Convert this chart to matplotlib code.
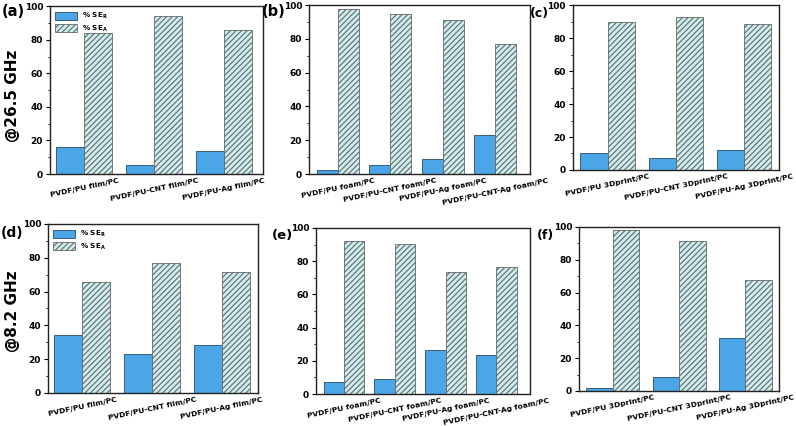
import numpy as np
import matplotlib.pyplot as plt
from matplotlib.ticker import MultipleLocator

film_labels = ['PVDF/PU film/PC', 'PVDF/PU-CNT film/PC', 'PVDF/PU-Ag film/PC']
foam_labels = ['PVDF/PU foam/PC', 'PVDF/PU-CNT foam/PC', 'PVDF/PU-Ag foam/PC',
               'PVDF/PU-CNT-Ag foam/PC']
print_labels = ['PVDF/PU 3Dprint/PC', 'PVDF/PU-CNT 3Dprint/PC', 'PVDF/PU-Ag 3Dprint/PC']

# @26.5 GHz
a_ser = [16.0, 5.5, 14.0]
a_sea = [84.0, 94.4, 86.0]
b_ser = [2.2, 5.5, 8.9, 23.0]
b_sea = [97.8, 94.7, 91.0, 77.2]
c_ser = [10.5, 7.5, 11.9]
c_sea = [89.7, 92.7, 88.5]
# @8.2 GHz
d_ser = [34.4, 23.3, 28.1]
d_sea = [65.4, 76.7, 71.7]
e_ser = [7.4, 9.3, 26.8, 23.3]
e_sea = [92.4, 90.5, 73.2, 76.3]
f_ser = [1.6, 8.4, 32.2]
f_sea = [98.0, 91.4, 67.6]

blue = '#4aa6e6'
cyan = '#cdeef0'
plt.rcParams['hatch.color'] = '#4f8790'
plt.rcParams['hatch.linewidth'] = 0.8

fig = plt.figure(figsize=(7.96, 4.26), dpi=100)
W, H = 796.0, 426.0

# tag, axes rect, labels, SE_R, SE_A, xlim, legend, tag pixel position, tag size
panels = [
    ('(a)', [0.0628, 0.5915, 0.2676, 0.394], film_labels, a_ser, a_sea, (0.51, 3.56), True, (2, 12), 10.5),
    ('(b)', [0.3882, 0.5915, 0.2776, 0.3967], foam_labels, b_ser, b_sea, (0.45, 4.66), False, (262, 12), 10.5),
    ('(c)', [0.7198, 0.601, 0.2588, 0.387], print_labels, c_ser, c_sea, (0.49, 3.51), False, (530, 13), 9),
    ('(d)', [0.0603, 0.0775, 0.2638, 0.3967], film_labels, d_ser, d_sea, (1, 233), True, (1, 233), 10),
    ('(e)', [0.397, 0.0751, 0.2688, 0.3897], foam_labels, e_ser, e_sea, (0.45, 4.66), False, (272, 236), 9.5),
    ('(f)', [0.7274, 0.0822, 0.2513, 0.385], print_labels, f_ser, f_sea, (0.49, 3.51), False, (537, 236), 9),
]
# (d) shares the film xlim
panels[3] = panels[3][:5] + ((0.51, 3.52),) + panels[3][6:]

w = 0.4
for tag, rect, labels, ser, sea, xl, leg, tp, ts in panels:
    ax = fig.add_axes(rect)
    x = np.arange(1, len(labels) + 1)
    ax.bar(x - w / 2, ser, w, color=blue, edgecolor='#2a4a66', linewidth=0.6,
           label=r'% SE$_\mathregular{R}$')
    ax.bar(x + w / 2, sea, w, color=cyan, edgecolor='#666666', linewidth=0.6,
           hatch='//////', label=r'% SE$_\mathregular{A}$')
    ax.set_xlim(*xl)
    ax.set_ylim(0, 100)
    ax.yaxis.set_major_locator(MultipleLocator(20))
    ax.yaxis.set_minor_locator(MultipleLocator(10))
    ax.set_xticks(x)
    ax.set_xticklabels(labels, rotation=12, ha='center', fontsize=5.4,
                       fontweight='bold')
    ax.tick_params(axis='x', length=0, pad=2.5)
    ax.tick_params(axis='y', which='major', length=3, width=0.8, labelsize=6.5,
                   direction='out', pad=2)
    ax.tick_params(axis='y', which='minor', length=1.8, width=0.6, direction='out')
    for lab in ax.get_yticklabels():
        lab.set_fontweight('bold')
    for s in ax.spines.values():
        s.set_linewidth(1.0)
        s.set_color('#222222')
    if leg:
        ax.legend(loc='upper left', frameon=False,
                  handlelength=3.0, handleheight=1.3, borderaxespad=0.3,
                  labelspacing=0.3, prop={'weight': 'bold', 'size': 5.2})
    fig.text(tp[0] / W, 1 - tp[1] / H, tag, fontsize=ts, fontweight='bold',
             va='center', ha='left')

fig.text(0.016, 0.775, '@26.5 GHz', rotation=90, fontsize=11, fontweight='bold',
         va='center', ha='center')
fig.text(0.016, 0.27, '@8.2 GHz', rotation=90, fontsize=11, fontweight='bold',
         va='center', ha='center')

fig.savefig('out.png', dpi=100)
